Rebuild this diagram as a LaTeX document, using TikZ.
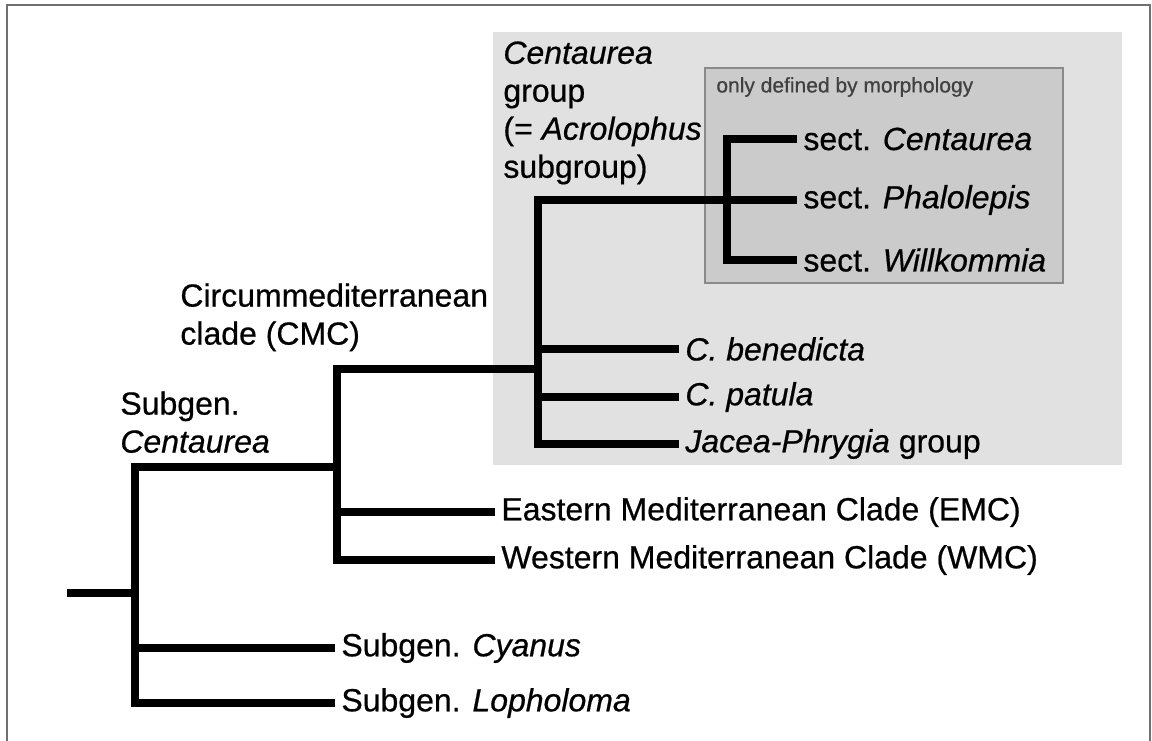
\documentclass[tikz,border=0pt]{standalone}
\usepackage{fontspec}
\setmainfont{Liberation Sans}[FakeBold=0.6]
\usetikzlibrary{positioning}
\definecolor{cladegrey}{HTML}{E1E1E1}
\definecolor{morphgrey}{HTML}{CBCBCB}
\definecolor{morphedge}{HTML}{8A8A8A}
\definecolor{frameedge}{HTML}{707070}
\tikzset{
	branch/.style={line width=3.7pt, line join=miter},
	taxon/.style={anchor=west, inner sep=3pt, font=\fontsize{16}{19}\selectfont},
	cladelabel/.style={anchor=north west, align=left, inner sep=0pt, font=\fontsize{16}{19}\selectfont}
}

\begin{document}
\begin{tikzpicture}[x=0.5pt, y=-0.5pt]
		\useasboundingbox (0,0) rectangle (1152,740);
		\draw[frameedge, line width=1pt] (7,745) -- (7,5) -- (1150,5) -- (1150,745);
		\fill[cladegrey] (493,32) rectangle (1122,465);
		\draw[fill=morphgrey, draw=morphedge, line width=1pt] (705,68) rectangle (1063,283);
		\node[anchor=west, inner sep=0pt, text=black!75, font=\fontsize{10.5}{12}\selectfont] (morph) at (716,87) {only defined by morphology};

		\coordinate (root) at (67,593);
		\coordinate (subg) at (135,593);
		\coordinate (cmc) at (337,467);
		\coordinate (cgroup) at (538,369);
		\coordinate (sect) at (727,200);

		\node[taxon] (cyanus) at (335,648) {Subgen. \textit{Cyanus}};
		\node[taxon] (lopholoma) at (335,703) {Subgen. \textit{Lopholoma}};
		\node[taxon] (emc) at (495,512) {Eastern Mediterranean Clade (EMC)};
		\node[taxon] (wmc) at (495,560) {Western Mediterranean Clade (WMC)};
		\node[taxon] (benedicta) at (679,349) {\textit{C. benedicta}};
		\node[taxon] (patula) at (679,397) {\textit{C. patula}};
		\node[taxon] (jacea) at (679,444) {\textit{Jacea-Phrygia} group};
		\node[taxon] (sectcent) at (797,139) {sect. \textit{Centaurea}};
		\node[taxon] (sectphal) at (797,200) {sect. \textit{Phalolepis}};
		\node[taxon] (sectwill) at (797,260) {sect. \textit{Willkommia}};

		\node[cladelabel] (subglabel) at (120,391) {Subgen.\\\textit{Centaurea}};
		\node[cladelabel] (cmclabel) at (180,283) {Circummediterranean\\clade (CMC)};
		\node[cladelabel] (cgrouplabel) at (503,41) {\textit{Centaurea}\\group\\(= \textit{Acrolophus}\\subgroup)};

		\draw[branch] (root) -- (subg);
		\draw[branch] (subg) |- (cmc);
		\draw[branch] (subg) |- (cyanus.west);
		\draw[branch] (subg) |- (lopholoma.west);
		\draw[branch] (cmc) |- (cgroup);
		\draw[branch] (cmc) |- (emc.west);
		\draw[branch] (cmc) |- (wmc.west);
		\draw[branch] (cgroup) |- (sect);
		\draw[branch] (cgroup) |- (benedicta.west);
		\draw[branch] (cgroup) |- (patula.west);
		\draw[branch] (cgroup) |- (jacea.west);
		\draw[branch] (sect) |- (sectcent.west);
		\draw[branch] (sect) |- (sectphal.west);
		\draw[branch] (sect) |- (sectwill.west);
\end{tikzpicture}
\end{document}
